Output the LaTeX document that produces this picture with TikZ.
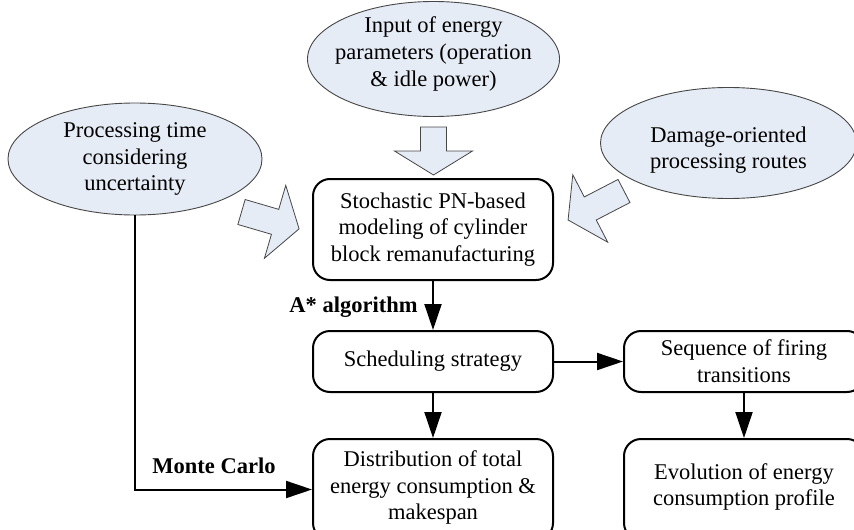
\documentclass[tikz,border=0pt]{standalone}
\usepackage{fontspec}
\setmainfont{Liberation Serif}
\usetikzlibrary{shapes.geometric,arrows.meta}
\definecolor{softblue}{RGB}{230,236,246}
\definecolor{edgegray}{RGB}{70,70,70}
\begin{document}
\begin{tikzpicture}[x=1pt,y=-1pt,
  txt/.style={font=\fontsize{22.5}{26.7}\selectfont, align=center, inner sep=0pt},
  lbl/.style={font=\fontsize{22.5}{26}\selectfont\bfseries, inner sep=0pt},
  oval/.style={ellipse, draw=edgegray, line width=0.9pt, fill=softblue, inner sep=0pt},
  stepbox/.style={draw=black, line width=2pt, rounded corners=17pt, minimum width=240pt, inner sep=0pt},
  flow/.style={draw=black, line width=2pt, -{Triangle[length=26pt,width=17pt]}},
  fatarrow/.style={draw=edgegray, line width=0.8pt, fill=softblue, line join=miter}
]
\useasboundingbox (0,0) rectangle (854,530);
\clip (0,0) rectangle (854,530);

% input ellipses
\node[oval, minimum width=252pt, minimum height=115pt] (e1) at (433.5,59) {};
\node[txt] (e1t) at (433.5,54) {Input of energy\\parameters (operation\\\& idle power)};
\node[oval, minimum width=254pt, minimum height=112pt] (e2) at (135,159) {};
\node[txt] (e2t) at (135,159) {Processing time\\considering\\uncertainty};
\node[oval, minimum width=256pt, minimum height=111pt] (e3) at (728.5,143) {};
\node[txt] (e3t) at (728.5,150) {Damage-oriented\\processing routes};

% block arrows feeding the model
\draw[fatarrow, shift={(433.5,127)}, rotate=-90]
  (0,13) -- (24,13) -- (24,39) -- (48,0) -- (24,-39) -- (24,-13) -- (0,-13) -- cycle;
\draw[fatarrow, shift={(241.5,212)}, rotate=-16.3]
  (0,13) -- (35,13) -- (35,38) -- (60,0) -- (35,-38) -- (35,-13) -- (0,-13) -- cycle;
\draw[fatarrow, shift={(624,191)}, rotate=207.4]
  (0,13) -- (38,13) -- (38,38) -- (63,0) -- (38,-38) -- (38,-13) -- (0,-13) -- cycle;

% process boxes
\node[stepbox, minimum height=101pt] (b1) at (433,229.5) {};
\node[txt] (b1t) at (433,229.5) {Stochastic PN-based\\modeling of cylinder\\block remanufacturing};
\node[stepbox, minimum height=61pt] (b2) at (433,361.5) {};
\node[txt] (b2t) at (433,361.5) {Scheduling strategy};
\node[stepbox, minimum height=101pt] (b3) at (433,489.5) {};
\node[txt] (b3t) at (433,487.5) {Distribution of total\\energy consumption \&\\makespan};
\node[stepbox, minimum height=61pt] (b4) at (744,361.5) {};
\node[txt] (b4t) at (744,361.5) {Sequence of firing\\transitions};
\node[stepbox, minimum height=101pt] (b5) at (744,489.5) {};
\node[txt] (b5t) at (744,487) {Evolution of energy\\consumption profile};

% connectors
\draw[flow] (b1) -- (b2);
\draw[flow] (b2) -- (b3);
\draw[flow] (b2) -- (b4);
\draw[flow] (b4) -- (b5);
\draw[flow] (e2.south) |- (b3.west);

% method labels
\node[lbl] (astar) at (353.5,307) {A* algorithm};
\node[lbl] (mc) at (214,466) {Monte Carlo};
\end{tikzpicture}
\end{document}
